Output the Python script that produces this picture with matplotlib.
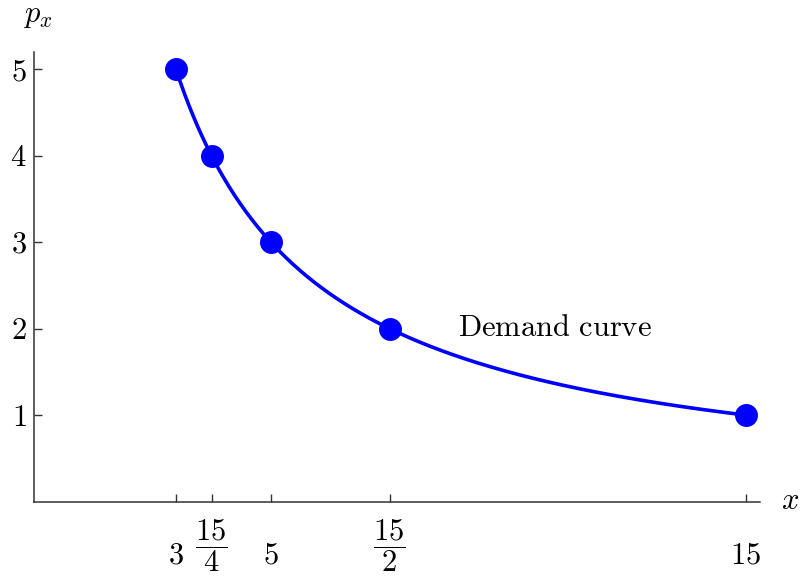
import numpy as np
import matplotlib
matplotlib.use("Agg")
import matplotlib.pyplot as plt

plt.rcParams['mathtext.fontset'] = 'cm'
plt.rcParams['font.family'] = 'serif'
plt.rcParams['font.serif'] = ['cmr10', 'DejaVu Serif']
plt.rcParams['axes.formatter.use_mathtext'] = True

# Data
quantity = [3, 3.75, 5, 7.5, 15]
price = [5, 4, 3, 2, 1]
xtick_vals = [3, 3.75, 5, 7.5, 15]
xtick_labels = [r'$3$', r'$\dfrac{15}{4}$', r'$5$', r'$\dfrac{15}{2}$', r'$15$']
ytick_vals = [1, 2, 3, 4, 5]
ytick_labels = [r'$1$', r'$2$', r'$3$', r'$4$', r'$5$']
expenditure = 15  # x * p_x along the demand curve

fig = plt.figure(figsize=(8.02, 5.76), dpi=100)
ax = fig.add_axes([0.0418, 0.1293, 0.9058, 0.7804])

xs = np.linspace(quantity[0], quantity[-1], 400)
ax.plot(xs, expenditure / xs, color='#0000ff', lw=2.6, zorder=2)
ax.plot(quantity, price, 'o', color='#0000ff', ms=15.5, zorder=3, clip_on=False)

ax.set_xlim(0, 15.3)
ax.set_ylim(0, 5.2)
ax.spines['top'].set_visible(False)
ax.spines['right'].set_visible(False)
for s in ('left', 'bottom'):
    ax.spines[s].set_linewidth(1.1)
    ax.spines[s].set_color('#333333')

ax.set_xticks(xtick_vals)
ax.set_xticklabels(xtick_labels, fontsize=22)
ax.set_yticks(ytick_vals)
ax.set_yticklabels(ytick_labels, fontsize=22)
ax.tick_params(axis='both', direction='in', length=6, width=1.0, color='#333333')
ax.tick_params(axis='x', pad=0)
ax.tick_params(axis='y', pad=5)
for lbl, txt in zip(ax.get_xticklabels(), xtick_labels):
    lbl.set_verticalalignment('center')
    lbl.set_y(-0.098 if 'frac' in txt else -0.120)

ax.text(8.95, 2.0, r'$\mathrm{Demand\ curve}$', fontsize=22, ha='left', va='center')
ax.text(15.93, 0.0, r'$x$', fontsize=22, ha='center', va='center')
ax.text(0.1, 5.61, r'$p_x$', fontsize=22, ha='center', va='center')

fig.savefig('out.png', dpi=100)
